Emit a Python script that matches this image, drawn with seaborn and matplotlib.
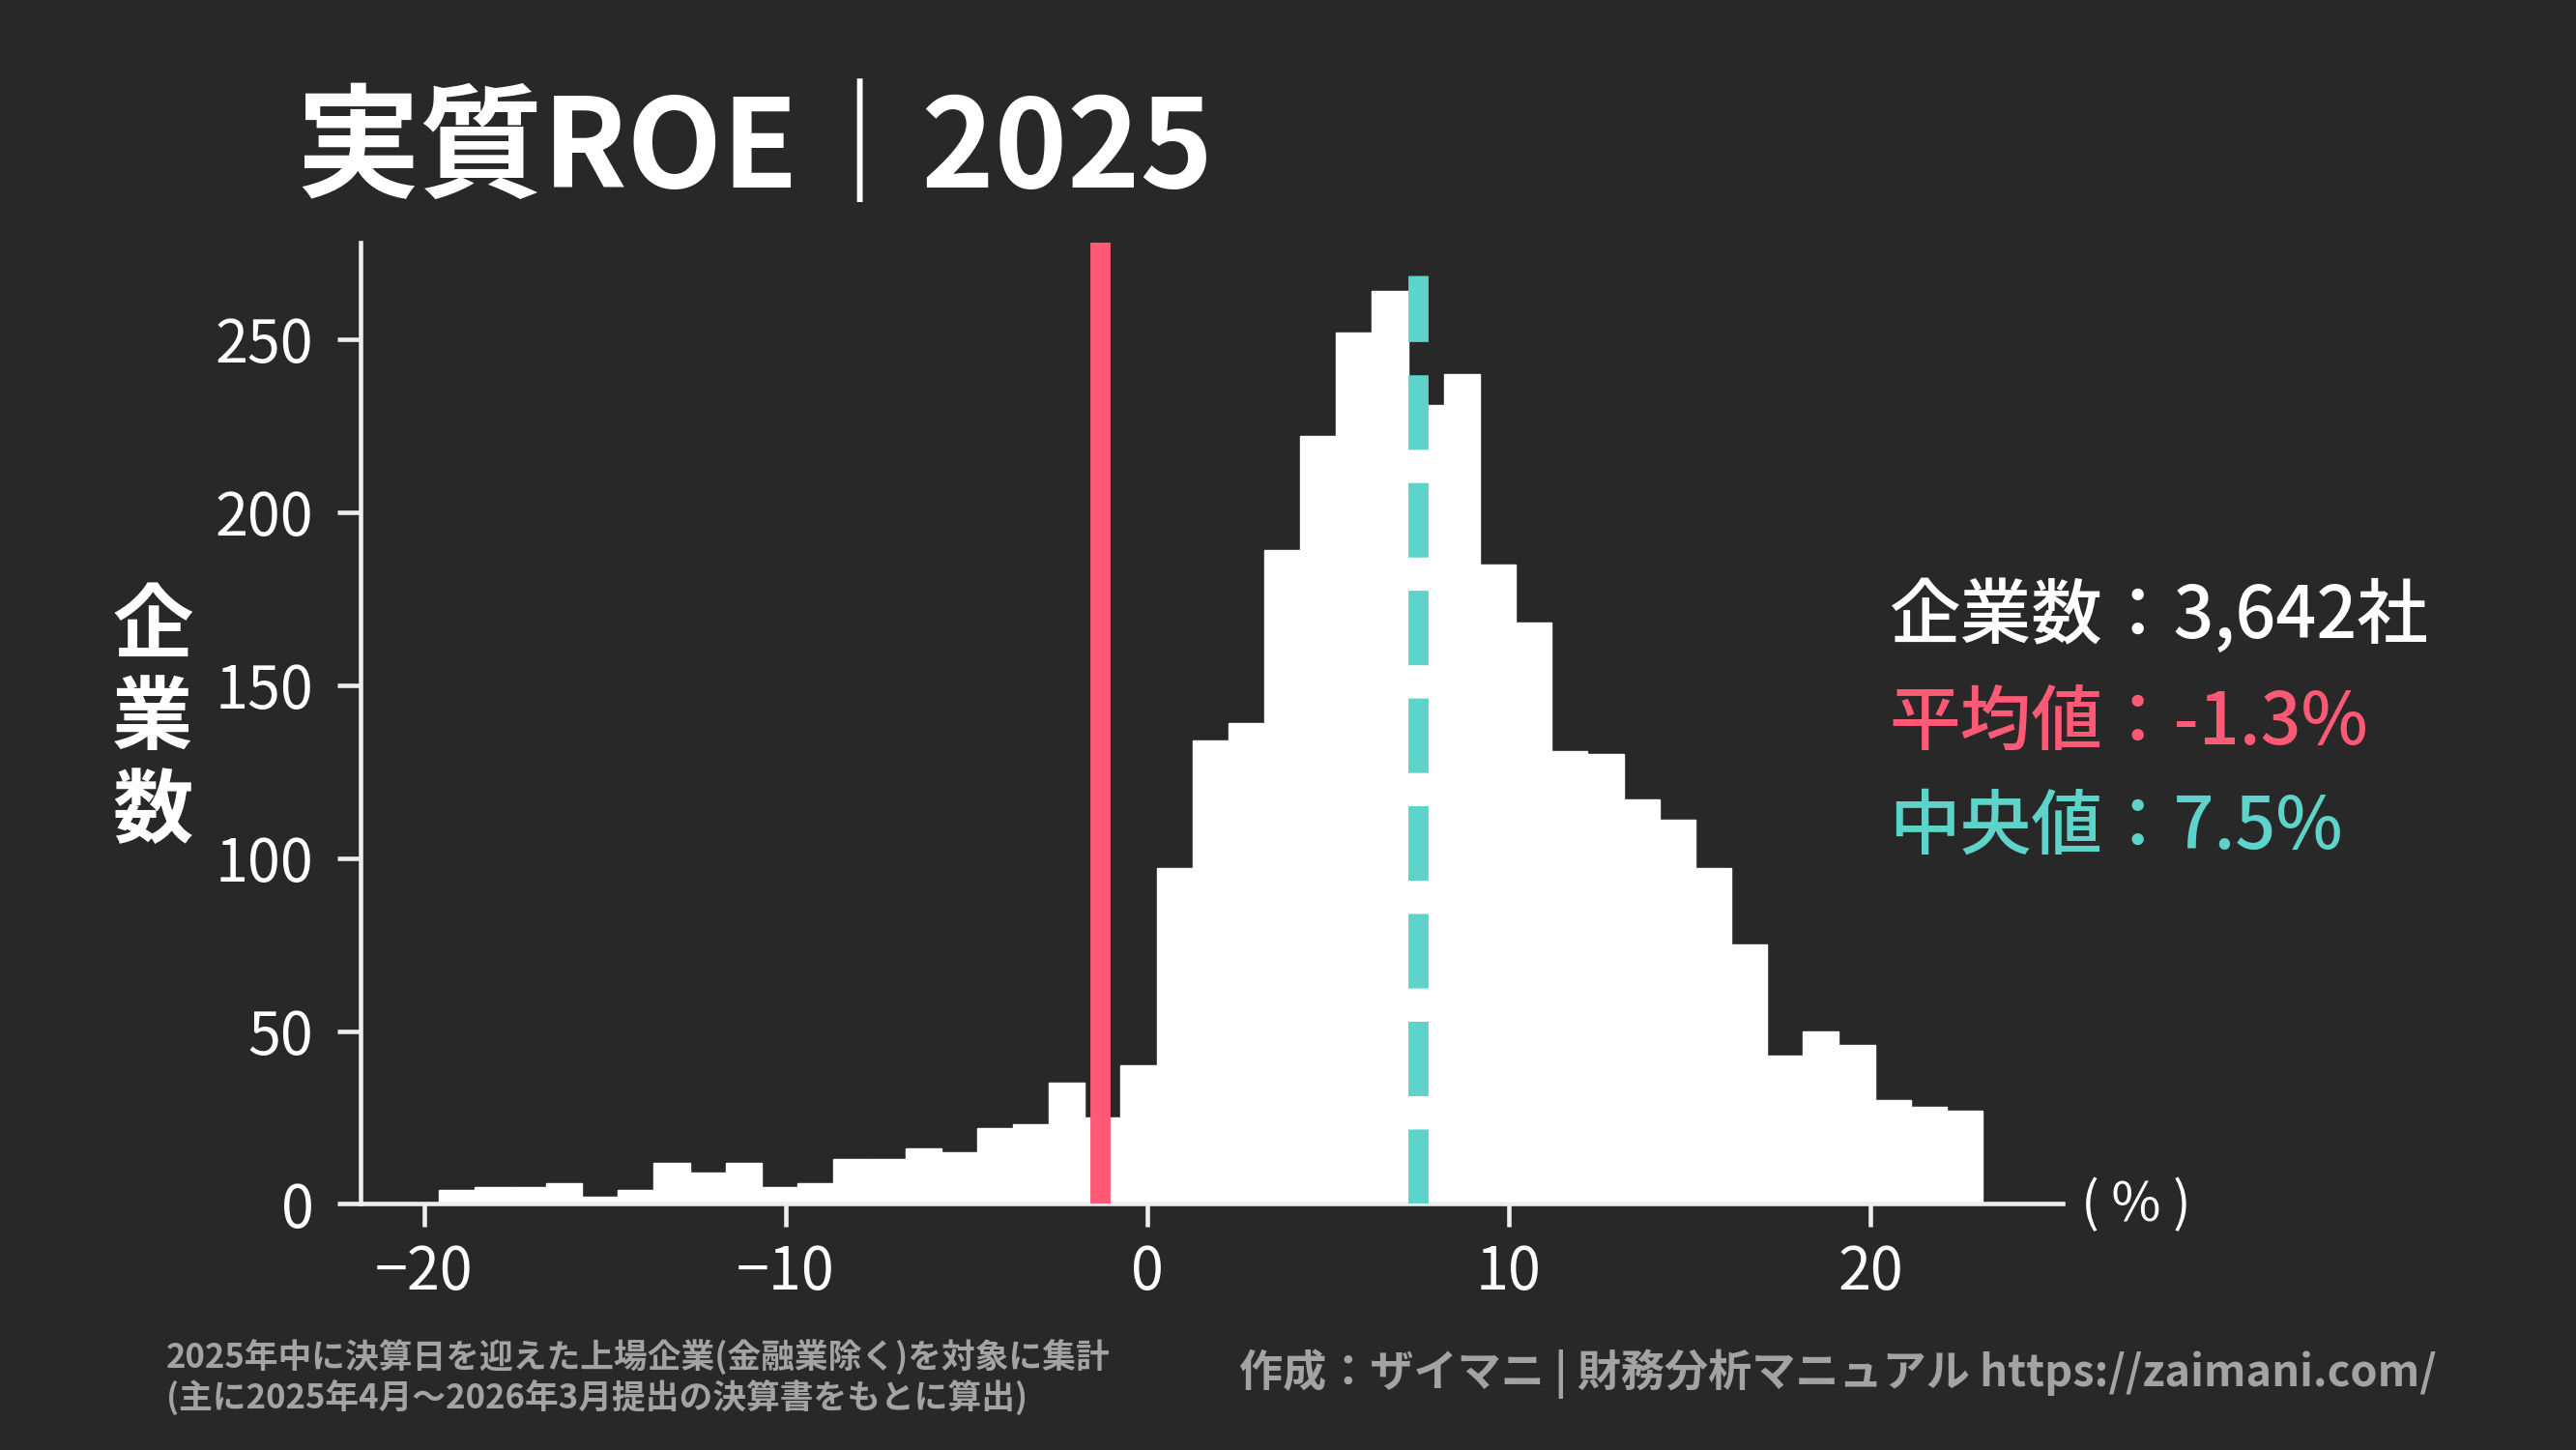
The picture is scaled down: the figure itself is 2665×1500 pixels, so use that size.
import matplotlib.pyplot as plt
import seaborn as sns
import numpy as np
import pandas as pd

"""
実質ROE 2025 histogram (dark theme)
"""

# histogram data
bin_lo, bin_hi = -19.6, 23.1
counts = [4, 5, 5, 6, 2, 4, 12, 9, 12, 5, 6, 13, 13, 16, 15, 22, 23, 35, 25, 40,
          97, 134, 139, 189, 222, 252, 264, 231, 240, 185, 168, 131, 130, 117, 111,
          97, 75, 43, 50, 46, 30, 28, 27]
x_ticks = [-20, -10, 0, 10, 20]
y_ticks = [0, 50, 100, 150, 200, 250]

n_companies = 3642
mean_roe = -1.3
median_roe = 7.5

BG = '#282828'
RED = '#FF5A75'
TEAL = '#5DD3C9'
GRAY = '#A3A3A3'
AXIS = '#EEEEEE'


def main():
    sns.set_style('dark', {'axes.facecolor': BG, 'figure.facecolor': BG})
    plt.rcParams['font.family'] = ['Noto Sans CJK JP', 'DejaVu Sans']

    edges = np.linspace(bin_lo, bin_hi, len(counts) + 1)
    df = pd.DataFrame({'roe': (edges[:-1] + edges[1:]) / 2, 'n': counts})

    fig = plt.figure(figsize=(26.65, 15), dpi=100)
    ax = fig.add_axes([0.140, 0.1697, 0.6608, 0.663])

    sns.histplot(data=df, x='roe', weights='n', bins=edges.tolist(),
                 color='white', alpha=1, edgecolor='white', linewidth=1, ax=ax)

    # mean / median markers
    ax.axvline(mean_roe, color=RED, lw=15, zorder=3)
    ax.plot([median_roe, median_roe], [0, 268.5], color=TEAL, lw=15,
            dashes=(3.7, 1.65), solid_capstyle='butt', zorder=3)

    ax.set_xlim(-21.75, 25.32)
    ax.set_ylim(0, 278)
    ax.set_xticks(x_ticks)
    ax.set_yticks(y_ticks)
    ax.set_xlabel('')
    ax.set_ylabel('')
    ax.grid(False)

    for side in ['top', 'right']:
        ax.spines[side].set_visible(False)
    for side in ['left', 'bottom']:
        ax.spines[side].set_color(AXIS)
        ax.spines[side].set_linewidth(3.3)
    ax.tick_params(axis='both', colors=AXIS, labelcolor='white', length=17,
                   width=3.3, labelsize=44, bottom=True, left=True)
    ax.tick_params(axis='x', pad=12)
    ax.tick_params(axis='y', pad=18)

    # titles and notes
    fig.text(306 / 2665, 1 - 194 / 1500, '実質ROE｜2025', fontsize=92,
             weight='bold', color='white', va='baseline')
    fig.text(158 / 2665, 1 - 745 / 1500, '企\n業\n数', fontsize=60,
             weight='bold', color='white', ha='center', va='center',
             linespacing=1.16)
    fig.text(2153 / 2665, 1 - 1247 / 1500, '( % )', fontsize=40,
             color='white', va='center')

    fig.text(1954 / 2665, 1 - 638 / 1500, f'企業数：{n_companies:,d}社',
             fontsize=53, weight='medium', color='white', va='center')
    fig.text(1954 / 2665, 1 - 749 / 1500, f'平均値：{mean_roe}%',
             fontsize=53, weight='medium', color=RED, va='center')
    fig.text(1954 / 2665, 1 - 857 / 1500, f'中央値：{median_roe}%',
             fontsize=53, weight='medium', color=TEAL, va='center')

    fig.text(172 / 2665, 1 - 1404 / 1500,
             '2025年中に決算日を迎えた上場企業(金融業除く)を対象に集計',
             fontsize=25, weight='bold', color=GRAY, va='center')
    fig.text(172 / 2665, 1 - 1446 / 1500,
             '(主に2025年4月～2026年3月提出の決算書をもとに算出)',
             fontsize=25, weight='bold', color=GRAY, va='center')
    fig.text(2521 / 2665, 1 - 1421 / 1500,
             '作成：ザイマニ | 財務分析マニュアル https://zaimani.com/',
             fontsize=32.5, weight='bold', color=GRAY, ha='right', va='center')

    fig.savefig('out.png', dpi=100, facecolor=BG)


if __name__ == '__main__':
    main()
